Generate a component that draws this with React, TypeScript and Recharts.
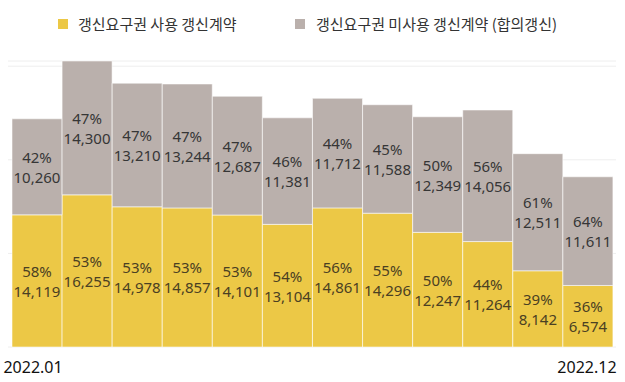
import React from 'react';
import { BarChart, Bar, XAxis, YAxis, CartesianGrid, Legend, LabelList } from 'recharts';

const months = ['2022.01', '2022.02', '2022.03', '2022.04', '2022.05', '2022.06', '2022.07', '2022.08', '2022.09', '2022.10', '2022.11', '2022.12'];
const usedValues = [14119, 16255, 14978, 14857, 14101, 13104, 14861, 14296, 12247, 11264, 8142, 6574];
const unusedValues = [10260, 14300, 13210, 13244, 12687, 11381, 11712, 11588, 12349, 14056, 12511, 11611];
const usedPct = [58, 53, 53, 53, 53, 54, 56, 55, 50, 44, 39, 36];
const unusedPct = [42, 47, 47, 47, 47, 46, 44, 45, 50, 56, 61, 64];
const yTicks = [0, 10000, 20000, 30000];

const USED_NAME = '갱신요구권 사용 갱신계약';
const UNUSED_NAME = '갱신요구권 미사용 갱신계약 (합의갱신)';
const YELLOW = '#ECC846';
const GREY = '#BAB0AC';
const LABEL_FONT = '"Noto Sans", "Noto Sans CJK KR", sans-serif';

const data = months.map((m, i) => ({
  month: m,
  used: usedValues[i],
  unused: unusedValues[i],
}));

const makeLabel = (values: number[], pcts: number[], color: string) => (props: any) => {
  const { x, y, width, height, index } = props;
  const cx = x + width / 2;
  const cy = y + height / 2;
  return (
    <g>
      <text x={cx} y={cy - 10} textAnchor="middle" dominantBaseline="central" fill={color} fontSize={15} fontFamily={LABEL_FONT}>
        {pcts[index]}%
      </text>
      <text x={cx} y={cy + 10} textAnchor="middle" dominantBaseline="central" fill={color} fontSize={15} fontFamily={LABEL_FONT}>
        {values[index].toLocaleString('en-US')}
      </text>
    </g>
  );
};

const MonthTick = (props: any) => {
  const { x, y, payload, index } = props;
  if (index !== 0 && index !== months.length - 1) return null;
  return (
    <text x={x - (index === 0 ? 4 : 1)} y={y + 12} textAnchor="middle" dominantBaseline="central" fill="#111" fontSize={16} fontFamily={LABEL_FONT}>
      {payload.value}
    </text>
  );
};

const LegendContent = () => (
  <div style={{ position: 'relative', height: 30, fontFamily: '"Noto Sans CJK KR", sans-serif', fontSize: 15, color: '#333' }}>
    <div style={{ position: 'absolute', left: 58, top: 6, width: 10, height: 10, background: YELLOW }} />
    <div style={{ position: 'absolute', left: 78, top: 0, lineHeight: '22px', whiteSpace: 'nowrap' }}>{USED_NAME}</div>
    <div style={{ position: 'absolute', left: 295, top: 6, width: 10, height: 10, background: GREY }} />
    <div style={{ position: 'absolute', left: 316, top: 0, lineHeight: '22px', whiteSpace: 'nowrap' }}>{UNUSED_NAME}</div>
  </div>
);

export default function App() {
  return (
    <div style={{ position: 'absolute', left: 0, top: 0, width: 625, height: 382, background: '#fff' }}>
      <BarChart width={625} height={382} data={data} margin={{ top: 31, right: 9, bottom: 0, left: 8 }} barCategoryGap={0}>
        <CartesianGrid vertical={false} stroke="#eeeeee" />
        <XAxis
          dataKey="month"
          axisLine={false}
          tickLine={false}
          interval={0}
          height={35}
          tick={<MonthTick />}
          padding={{ left: 4, right: 3 }}
        />
        <YAxis hide domain={[0, 'dataMax']} ticks={yTicks} />
        <Legend verticalAlign="top" content={<LegendContent />} wrapperStyle={{ top: 13, left: 0, width: 625 }} />
        <Bar dataKey="used" name={USED_NAME} stackId="a" fill={YELLOW} stroke="rgba(255,255,255,0.55)" strokeWidth={1} isAnimationActive={false}>
          <LabelList dataKey="used" content={makeLabel(usedValues, usedPct, '#4a4023')} />
        </Bar>
        <Bar dataKey="unused" name={UNUSED_NAME} stackId="a" fill={GREY} stroke="rgba(255,255,255,0.55)" strokeWidth={1} isAnimationActive={false}>
          <LabelList dataKey="unused" content={makeLabel(unusedValues, unusedPct, '#363636')} />
        </Bar>
      </BarChart>
    </div>
  );
}
